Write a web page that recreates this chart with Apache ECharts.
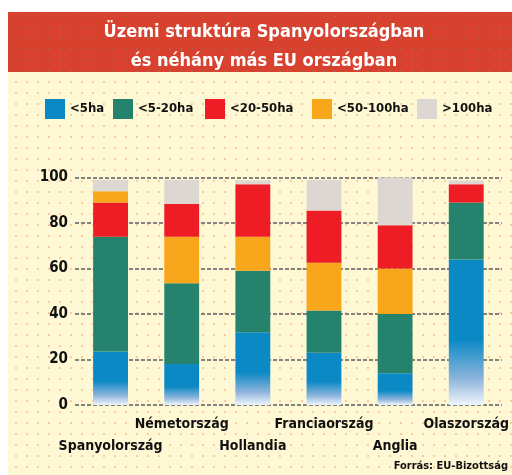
<!DOCTYPE html>
<html>
<head>
<meta charset="utf-8">
<script src="https://cdn.jsdelivr.net/npm/echarts@6/dist/echarts.min.js"></script>
<style>
  html, body { margin: 0; padding: 0; background: #fff; }
  #chart { width: 512px; height: 475px; }
</style>
</head>
<body>
<div id="chart"></div>
<script>
// data (percent of farms)
const countries = ['Spanyolország', 'Németország', 'Hollandia', 'Franciaország', 'Anglia', 'Olaszország']
const under5 = [23.5, 18, 32, 23, 14, 64]
const from5to20 = [50.5, 35.5, 27, 18.5, 26, 25]
const from50to100Low = [null, 20.5, 15, 21, 20, null]   // stacked below red
const from20to50 = [15, 14.5, 23, 23, 19, 8]
const from50to100High = [5, null, null, null, null, null] // Spain: orange sits above red
const over100 = [5, 10.5, 1.8, 13.5, 21, 1.7]
const yTicks = [0, 20, 40, 60, 80, 100]

const seriesNames = ['<5ha', '<5-20ha', '<20-50ha', '<50-100ha', '>100ha']

const FONT = '"DejaVu Sans Condensed", "Liberation Sans Narrow", sans-serif'

function dots (bg, dot, step, size) {
  const c = document.createElement('canvas')
  c.width = step
  c.height = step
  const ctx = c.getContext('2d')
  ctx.fillStyle = bg
  ctx.fillRect(0, 0, step, step)
  ctx.fillStyle = dot
  ctx.fillRect(Math.floor(step / 2) - 1, Math.floor(step / 2) - 1, size, size)
  return { image: c, repeat: 'repeat' }
}

const chart = echarts.init(document.getElementById('chart'))

const blueFill = new echarts.graphic.LinearGradient(0, 0, 0, 1, [
  { offset: 0, color: '#0a89c4' },
  { offset: 0.55, color: '#0a89c4' },
  { offset: 0.82, color: '#8db4dc' },
  { offset: 1, color: '#eef6fc' }
])

function bar (name, data, color) {
  return {
    name: name,
    type: 'bar',
    stack: 'farm',
    barWidth: '49%',
    data: data,
    itemStyle: { color: color }
  }
}

const legendLeft = [45, 113, 205, 312, 417]
const legendColors = ['#0a89c4', '#25836d', '#ee1d25', '#f8a61b', '#dcd7d3']

const option = {
  backgroundColor: '#fff',
  animation: false,
  graphic: [
    { type: 'rect', z: -10, shape: { x: 8, y: 72, width: 504, height: 403 }, style: { fill: dots('#fff8d5', '#fcca9c', 11, 2) } },
    { type: 'rect', z: -10, shape: { x: 8, y: 12, width: 504, height: 60 }, style: { fill: dots('#d9412f', '#b85846', 11, 2) } },
    {
      type: 'text', right: 4, bottom: 3,
      style: { text: 'Forrás: EU-Bizottság', fill: '#111', font: 'bold 11px ' + FONT }
    }
  ],
  title: {
    text: 'Üzemi struktúra Spanyolországban\nés néhány más EU országban',
    left: 259,
    top: 13,
    textAlign: 'center',
    textStyle: {
      color: '#fff',
      fontFamily: FONT,
      fontWeight: 'bold',
      fontSize: 18,
      lineHeight: 29
    }
  },
  legend: seriesNames.map((n, i) => ({
    data: [{ name: n, itemStyle: { color: legendColors[i] } }],
    left: legendLeft[i],
    top: 99,
    padding: 0,
    icon: 'rect',
    itemWidth: 20,
    itemHeight: 20,
    itemGap: 4,
    selectedMode: false,
    textStyle: { color: '#111', fontFamily: FONT, fontWeight: 'bold', fontSize: 13, padding: [4, 0, 0, 0] }
  })),
  grid: { left: 75, right: 10, top: 177.5, bottom: 70 },
  xAxis: {
    type: 'category',
    data: countries,
    axisLine: { show: false },
    axisTick: { show: false },
    axisLabel: {
      interval: 0,
      margin: 8,
      color: '#111',
      fontFamily: FONT,
      fontWeight: 'bold',
      fontSize: 14,
      lineHeight: 22,
      formatter: (v, i) => (i % 2 === 0 ? '\n' + v : v)
    }
  },
  yAxis: {
    type: 'value',
    min: yTicks[0],
    max: yTicks[yTicks.length - 1],
    interval: 20,
    axisLine: { show: false },
    axisTick: { show: false },
    axisLabel: { margin: 7, color: '#111', fontFamily: FONT, fontWeight: 'bold', fontSize: 15 },
    splitLine: { lineStyle: { color: '#85817c', width: 2, type: [4, 2] } }
  },
  series: [
    bar(seriesNames[0], under5, blueFill),
    bar(seriesNames[1], from5to20, '#25836d'),
    bar(seriesNames[3], from50to100Low, '#f8a61b'),
    bar(seriesNames[2], from20to50, '#ee1d25'),
    bar(seriesNames[3], from50to100High, '#f8a61b'),
    bar(seriesNames[4], over100, '#dcd7d3')
  ]
}

chart.setOption(option)
</script>
</body>
</html>
